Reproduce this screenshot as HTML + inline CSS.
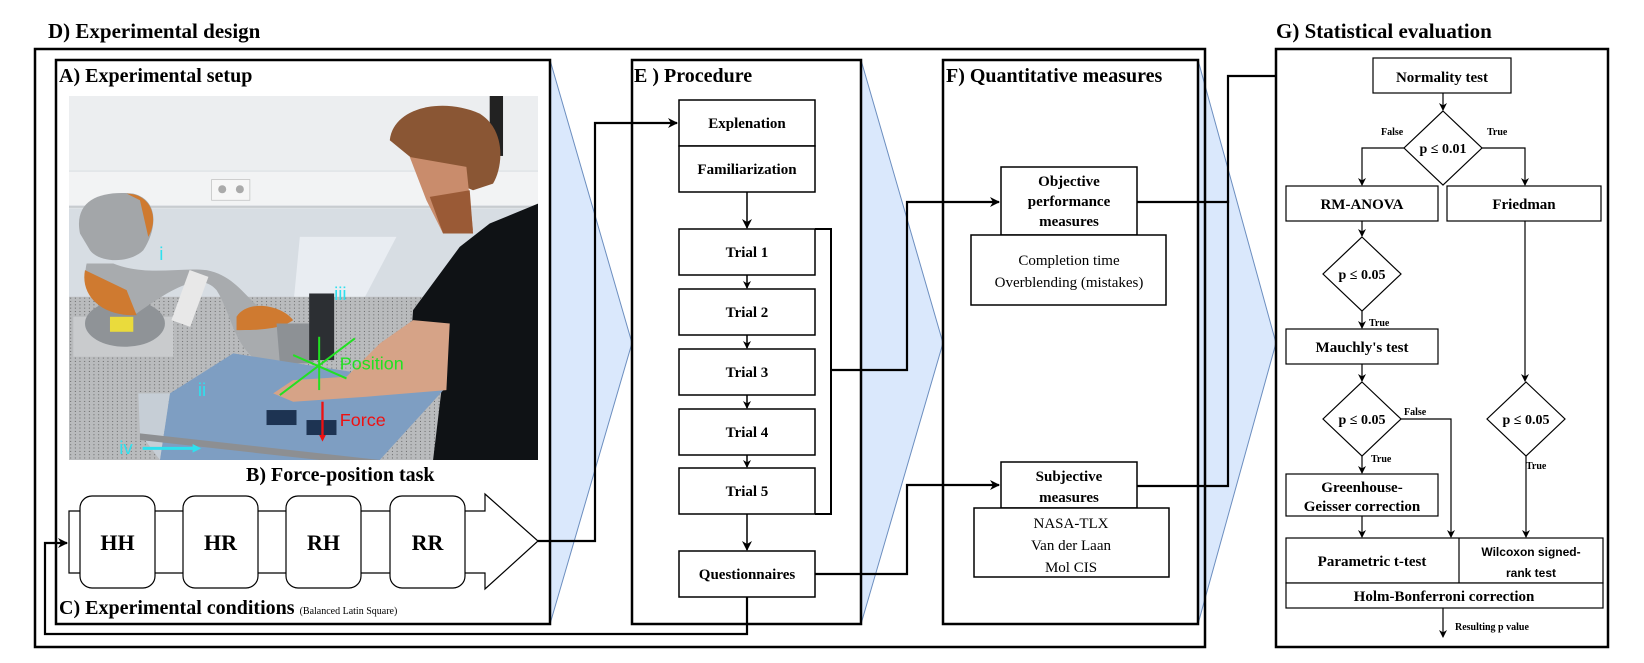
<!DOCTYPE html>
<html><head><meta charset="utf-8"><style>
html,body{margin:0;padding:0;background:#fff;}
svg{display:block;}
.t{font-family:"Liberation Serif",serif;font-weight:bold;fill:#000;}
.n{font-family:"Liberation Serif",serif;fill:#000;}
.s{font-family:"Liberation Sans",sans-serif;font-weight:bold;fill:#000;}
</style></head><body>
<svg width="1644" height="663" viewBox="0 0 1644 663" xmlns="http://www.w3.org/2000/svg">
<defs>
<marker id="ah" markerWidth="10" markerHeight="10" refX="9" refY="5" orient="auto" markerUnits="userSpaceOnUse">
<path d="M0,0 L10,5 L0,10 L3,5 z" fill="#000"/></marker>
<marker id="ahs" markerWidth="8" markerHeight="8" refX="7" refY="4" orient="auto" markerUnits="userSpaceOnUse">
<path d="M0,0 L8,4 L0,8 L2.4,4 z" fill="#000"/></marker>
<pattern id="dots" width="14" height="10" patternUnits="userSpaceOnUse"><rect width="14" height="10" fill="#b9bbbd"/><circle cx="4" cy="4" r="1.6" fill="#555"/></pattern>
</defs>

<text class="t" x="48" y="38" font-size="21">D) Experimental design</text>
<text class="t" x="1276" y="38" font-size="21">G) Statistical evaluation</text>

<polygon points="550,60 632,343 550,624" fill="#dae8fc" stroke="#6c8ebf" stroke-width="1"/>
<polygon points="861,60 943,343 861,624" fill="#dae8fc" stroke="#6c8ebf" stroke-width="1"/>
<polygon points="1198,60 1276,343 1198,624" fill="#dae8fc" stroke="#6c8ebf" stroke-width="1"/>

<rect x="35" y="49" width="1170" height="598" fill="none" stroke="#000" stroke-width="2.5"/>
<rect x="56" y="60" width="494" height="564" fill="#fff" stroke="#000" stroke-width="2.5"/>
<text class="t" x="59" y="82" font-size="20">A) Experimental setup</text>

<svg x="69" y="96" width="469" height="364" viewBox="27 17 1408 1093" preserveAspectRatio="none">
<rect x="0" y="0" width="1470" height="1140" fill="#e2e5e8"/>
<rect x="0" y="0" width="1470" height="240" fill="#eceef0"/>
<rect x="0" y="245" width="1470" height="100" fill="#f2f3f4"/>
<line x1="0" y1="350" x2="1470" y2="350" stroke="#c8ccd0" stroke-width="6"/>
<rect x="0" y="355" width="1470" height="300" fill="#d7dde3"/>
<rect x="455" y="268" width="115" height="62" fill="#f6f6f6" stroke="#bbb" stroke-width="2"/>
<circle cx="487" cy="297" r="12" fill="#aaa"/><circle cx="540" cy="297" r="12" fill="#aaa"/>
<polygon points="720,440 1010,440 900,650 700,650" fill="#e9edf2"/>
<rect x="0" y="620" width="1470" height="520" fill="url(#dots)"/>
<rect x="1290" y="17" width="40" height="180" fill="#222"/>
<polygon points="1060,660 1200,470 1290,400 1435,340 1435,1110 1120,1110 1150,860 1050,800" fill="#0f1215"/>
<path d="M990,150 C1000,50 1150,20 1260,70 C1340,120 1330,230 1300,280 L1240,300 L1100,240 Z" fill="#8a5634"/>
<polygon points="1050,200 1220,230 1240,420 1150,430 1100,330" fill="#c98c6c"/>
<polygon points="1110,320 1230,300 1240,430 1150,430" fill="#9a5a36"/>
<polygon points="40,680 340,680 340,800 40,800" fill="#c9cbcd"/>
<ellipse cx="195" cy="700" rx="120" ry="70" fill="#8f9397"/>
<rect x="150" y="680" width="70" height="45" fill="#eadb3c"/>
<path d="M60,430 C40,330 120,300 220,310 C300,330 290,420 250,480 C210,520 120,520 90,480 Z" fill="#a3a6a9"/>
<path d="M200,310 C270,310 300,380 265,440 L240,330 Z" fill="#cf7a30"/>
<path d="M80,520 C60,600 130,680 230,670 C330,600 420,540 470,600 C520,680 520,780 620,830 C680,840 700,760 660,700 C560,640 540,560 440,540 C360,530 260,560 160,520 Z" fill="#a8abae"/>
<path d="M75,540 C60,620 130,680 230,675 L200,600 Z" fill="#cf7a30"/>
<rect x="360" y="545" width="60" height="160" fill="#e8e8e8" transform="rotate(20 390 625)"/>
<path d="M530,680 C560,630 660,640 700,690 C660,720 580,720 530,720 Z" fill="#cf7a30"/>
<path d="M650,700 L760,700 L760,820 L660,820 Z" fill="#8d9195"/>
<rect x="748" y="610" width="75" height="200" fill="#2c2f33"/>
<polygon points="330,910 520,790 1160,890 960,1110 300,1110" fill="#7e9ec2"/>
<polygon points="235,910 330,910 300,1110 240,1030" fill="#c6ced6"/>
<polygon points="240,1030 960,1110 960,1130 240,1050" fill="#8d8f92"/>
<rect x="620" y="960" width="90" height="45" fill="#1d3352"/>
<rect x="740" y="990" width="90" height="45" fill="#1d3352"/>
<polygon points="1060,690 1170,700 1160,900 920,920 700,935 640,910 700,870 860,860 960,760" fill="#d6a387"/>
<text x="298" y="510" font-family="Liberation Sans,sans-serif" font-size="56" fill="#2fe0ee">i</text>
<text x="823" y="630" font-family="Liberation Sans,sans-serif" font-size="56" fill="#2fe0ee">iii</text>
<text x="414" y="918" font-family="Liberation Sans,sans-serif" font-size="56" fill="#2fe0ee">ii</text>
<text x="178" y="1092" font-family="Liberation Sans,sans-serif" font-size="56" fill="#2fe0ee">iv</text>
<line x1="248" y1="1075" x2="400" y2="1075" stroke="#2fe0ee" stroke-width="9"/>
<polygon points="398,1062 424,1075 398,1088" fill="#2fe0ee"/>
<g stroke="#22e022" stroke-width="6">
<line x1="778" y1="740" x2="778" y2="900"/>
<line x1="660" y1="915" x2="885" y2="745"/>
<line x1="700" y1="795" x2="860" y2="865"/>
</g>
<text x="840" y="838" font-family="Liberation Sans,sans-serif" font-size="54" fill="#22e022">Position</text>
<line x1="788" y1="935" x2="788" y2="1040" stroke="#ee1111" stroke-width="7"/>
<polygon points="778,1035 798,1035 788,1055" fill="#ee1111"/>
<text x="840" y="1008" font-family="Liberation Sans,sans-serif" font-size="54" fill="#ee1111">Force</text>
</svg>

<text class="t" x="246" y="481" font-size="20">B) Force-position task</text>
<polygon points="69,511 485,511 485,494 538,541 485,589 485,573 69,573" fill="#fff" stroke="#000" stroke-width="1.2"/>
<rect x="80" y="496" width="75" height="92" rx="12" fill="#fff" stroke="#000" stroke-width="1.2"/>
<rect x="183" y="496" width="75" height="92" rx="12" fill="#fff" stroke="#000" stroke-width="1.2"/>
<rect x="286" y="496" width="75" height="92" rx="12" fill="#fff" stroke="#000" stroke-width="1.2"/>
<rect x="390" y="496" width="75" height="92" rx="12" fill="#fff" stroke="#000" stroke-width="1.2"/>
<g class="t" font-size="22" text-anchor="middle">
<text x="117.5" y="550">HH</text><text x="220.5" y="550">HR</text><text x="323.5" y="550">RH</text><text x="427.5" y="550">RR</text>
</g>
<text class="t" x="59" y="614" font-size="20">C) Experimental conditions <tspan font-weight="normal" font-size="10">(Balanced Latin Square)</tspan></text>

<rect x="632" y="60" width="229" height="564" fill="#fff" stroke="#000" stroke-width="2.5"/>
<text class="t" x="634" y="82" font-size="20">E ) Procedure</text>
<g fill="#fff" stroke="#000" stroke-width="1.5">
<rect x="679" y="100" width="136" height="46"/>
<rect x="679" y="146" width="136" height="46"/>
<rect x="679" y="229" width="136" height="46"/>
<rect x="679" y="289" width="136" height="46"/>
<rect x="679" y="349" width="136" height="46"/>
<rect x="679" y="409" width="136" height="46"/>
<rect x="679" y="468" width="136" height="46"/>
<rect x="679" y="551" width="136" height="46"/>
</g>
<g class="t" font-size="15" text-anchor="middle">
<text x="747" y="128">Explenation</text>
<text x="747" y="174">Familiarization</text>
<text x="747" y="257">Trial 1</text>
<text x="747" y="317">Trial 2</text>
<text x="747" y="377">Trial 3</text>
<text x="747" y="437">Trial 4</text>
<text x="747" y="496">Trial 5</text>
<text x="747" y="579">Questionnaires</text>
</g>
<g stroke="#000" stroke-width="1.5" fill="none">
<line x1="747" y1="192" x2="747" y2="228" marker-end="url(#ah)"/>
<line x1="747" y1="275" x2="747" y2="288" marker-end="url(#ahs)"/>
<line x1="747" y1="335" x2="747" y2="348" marker-end="url(#ahs)"/>
<line x1="747" y1="395" x2="747" y2="408" marker-end="url(#ahs)"/>
<line x1="747" y1="455" x2="747" y2="467" marker-end="url(#ahs)"/>
<line x1="747" y1="514" x2="747" y2="550" marker-end="url(#ah)"/>
</g>
<polyline points="815,229 831,229 831,514 815,514" fill="none" stroke="#000" stroke-width="2"/>

<rect x="943" y="60" width="255" height="564" fill="#fff" stroke="#000" stroke-width="2.5"/>
<text class="t" x="946" y="82" font-size="20">F) Quantitative measures</text>
<rect x="1001" y="167" width="136" height="68" fill="#fff" stroke="#000" stroke-width="1.5"/>
<rect x="971" y="235" width="195" height="70" fill="#fff" stroke="#000" stroke-width="1.5"/>
<rect x="1001" y="462" width="136" height="46" fill="#fff" stroke="#000" stroke-width="1.5"/>
<rect x="974" y="508" width="195" height="69" fill="#fff" stroke="#000" stroke-width="1.5"/>
<g class="t" font-size="15" text-anchor="middle">
<text x="1069" y="186">Objective</text><text x="1069" y="206">performance</text><text x="1069" y="226">measures</text>
<text x="1069" y="481">Subjective</text><text x="1069" y="502">measures</text>
</g>
<g class="n" font-size="15" text-anchor="middle">
<text x="1069" y="265">Completion time</text><text x="1069" y="287">Overblending (mistakes)</text>
<text x="1071" y="528">NASA-TLX</text><text x="1071" y="550">Van der Laan</text><text x="1071" y="572">Mol CIS</text>
</g>

<g fill="none" stroke="#000" stroke-width="2.2">
<polyline points="538,541 595,541 595,123 677,123" marker-end="url(#ah)"/>
<polyline points="831,370 907,370 907,202 999,202" marker-end="url(#ah)"/>
<polyline points="815,574 907,574 907,485 999,485" marker-end="url(#ah)"/>
<polyline points="747,597 747,634 45,634 45,543 67,543" marker-end="url(#ah)"/>
<polyline points="1137,202 1228,202 1228,76 1371,76" marker-end="url(#ah)"/>
<polyline points="1137,486 1228,486 1228,200"/>
</g>

<rect x="1276" y="49" width="332" height="598" fill="#fff" stroke="#000" stroke-width="2.5"/>
<g fill="#fff" stroke="#000" stroke-width="1.2">
<rect x="1373" y="58" width="138" height="35"/>
<rect x="1286" y="186" width="152" height="35"/>
<rect x="1447" y="186" width="154" height="35"/>
<rect x="1286" y="329" width="152" height="35"/>
<rect x="1286" y="474" width="152" height="42"/>
<rect x="1286" y="538" width="317" height="45"/>
<line x1="1459" y1="538" x2="1459" y2="583"/>
<rect x="1286" y="583" width="317" height="25"/>
<polygon points="1443,111 1482,148 1443,185 1404,148"/>
<polygon points="1362,237 1401,274 1362,311 1323,274"/>
<polygon points="1362,382 1401,419 1362,456 1323,419"/>
<polygon points="1526,382 1565,419 1526,456 1487,419"/>
</g>
<g fill="none" stroke="#000" stroke-width="1.2">
<line x1="1443" y1="93" x2="1443" y2="110" marker-end="url(#ahs)"/>
<polyline points="1404,148 1362,148 1362,185" marker-end="url(#ahs)"/>
<polyline points="1482,148 1525,148 1525,185" marker-end="url(#ahs)"/>
<line x1="1362" y1="221" x2="1362" y2="236" marker-end="url(#ahs)"/>
<line x1="1362" y1="311" x2="1362" y2="328" marker-end="url(#ahs)"/>
<line x1="1362" y1="364" x2="1362" y2="381" marker-end="url(#ahs)"/>
<line x1="1362" y1="456" x2="1362" y2="473" marker-end="url(#ahs)"/>
<line x1="1362" y1="516" x2="1362" y2="537" marker-end="url(#ahs)"/>
<polyline points="1401,419 1451,419 1451,537" marker-end="url(#ahs)"/>
<line x1="1525" y1="221" x2="1525" y2="381" marker-end="url(#ahs)"/>
<line x1="1526" y1="456" x2="1526" y2="537" marker-end="url(#ahs)"/>
<line x1="1443" y1="608" x2="1443" y2="637" marker-end="url(#ahs)"/>
</g>
<g class="t" text-anchor="middle">
<text x="1442" y="82" font-size="15">Normality test</text>
<text x="1443" y="153" font-size="14">p ≤ 0.01</text>
<text x="1362" y="209" font-size="15">RM-ANOVA</text>
<text x="1524" y="209" font-size="15">Friedman</text>
<text x="1362" y="279" font-size="14">p ≤ 0.05</text>
<text x="1362" y="352" font-size="15">Mauchly's test</text>
<text x="1362" y="424" font-size="14">p ≤ 0.05</text>
<text x="1526" y="424" font-size="14">p ≤ 0.05</text>
<text x="1362" y="492" font-size="15">Greenhouse-</text>
<text x="1362" y="511" font-size="15">Geisser correction</text>
<text x="1372" y="566" font-size="15">Parametric t-test</text>
<text x="1444" y="601" font-size="15">Holm-Bonferroni correction</text>
</g>
<g class="s" font-size="12" text-anchor="middle">
<text x="1531" y="556">Wilcoxon signed-</text>
<text x="1531" y="577">rank test</text>
</g>
<g class="t" font-size="10">
<text x="1381" y="135">False</text>
<text x="1487" y="135">True</text>
<text x="1369" y="326">True</text>
<text x="1404" y="415">False</text>
<text x="1371" y="462">True</text>
<text x="1526" y="469">True</text>
<text x="1455" y="630">Resulting p value</text>
</g>
</svg>
</body></html>
